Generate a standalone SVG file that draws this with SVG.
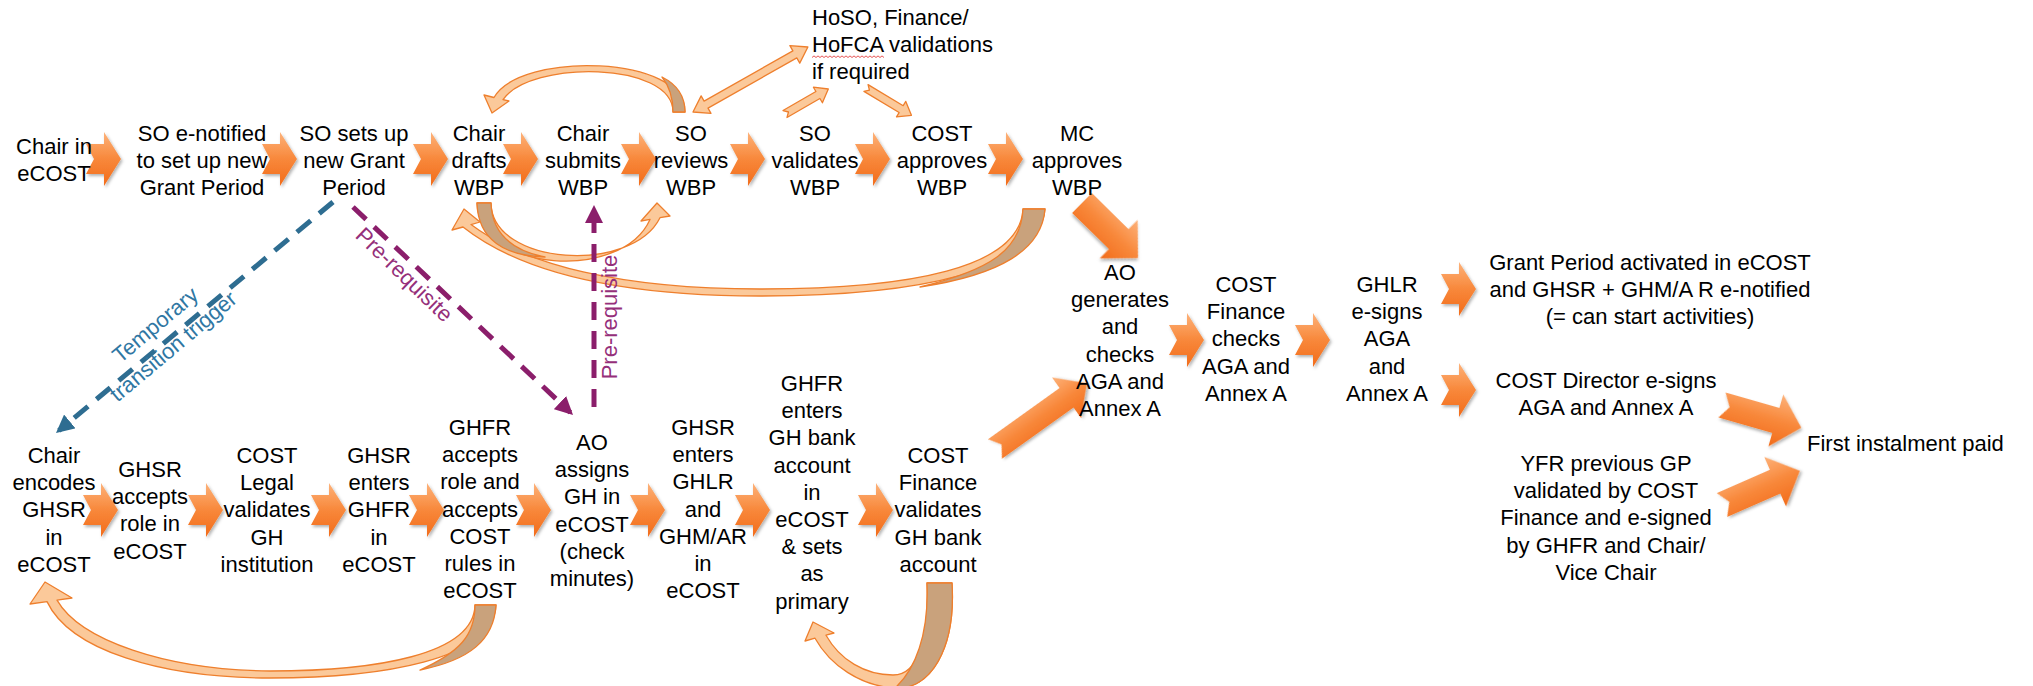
<svg xmlns="http://www.w3.org/2000/svg" xmlns:xlink="http://www.w3.org/1999/xlink" width="2033" height="686" viewBox="0 0 2033 686">
<defs>
<style>
.t{font-family:"Liberation Sans",Arial,sans-serif;font-size:22px;fill:#000;text-anchor:middle}
.tl{text-anchor:start}
.blk{fill:url(#og);filter:url(#sh)}
.cv{fill:#FBC99A;stroke:#EE7F2D;stroke-width:1.3;stroke-linejoin:round}
.br{fill:#C9A27C;stroke:#EE7F2D;stroke-width:1.3;stroke-linejoin:round}
.db{fill:none;stroke:#2E6D91;stroke-width:5;stroke-dasharray:18 11}
.dp{fill:none;stroke:#8B1E6B;stroke-width:5;stroke-dasharray:18 11}
.lb{font-family:"Liberation Sans",Arial,sans-serif;font-size:22px;fill:#2F77A3;text-anchor:middle}
.lp{font-family:"Liberation Sans",Arial,sans-serif;font-size:22px;fill:#952F7A;text-anchor:middle}
</style>
<linearGradient id="og" x1="0" y1="0" x2="0" y2="1">
<stop offset="0" stop-color="#FDB27A"/>
<stop offset="0.5" stop-color="#F8883B"/>
<stop offset="1" stop-color="#F26C1A"/>
</linearGradient>
<filter id="sh" x="-20%" y="-20%" width="150%" height="150%">
<feDropShadow dx="1.5" dy="2" stdDeviation="1.5" flood-color="#000" flood-opacity="0.3"/>
</filter>
<path id="na" d="M0,-15 L18,-15 L18,-27 L35,0 L18,27 L18,15 L0,15 L8,0 Z"/>
<marker id="mb" viewBox="0 0 10 10" refX="8" refY="5" markerWidth="3.6" markerHeight="3.6" orient="auto" markerUnits="strokeWidth">
<path d="M0,0 L10,5 L0,10 Z" fill="#2E6D91"/>
</marker>
<marker id="mp" viewBox="0 0 10 10" refX="8" refY="5" markerWidth="3.6" markerHeight="3.6" orient="auto" markerUnits="strokeWidth">
<path d="M0,0 L10,5 L0,10 Z" fill="#8B1E6B"/>
</marker>
</defs>
<rect width="2033" height="686" fill="#fff"/>

<g id="connectors">
<!-- top row flow arrows -->
<use href="#na" class="blk" transform="translate(86,159)"/>
<use href="#na" class="blk" transform="translate(262,159)"/>
<use href="#na" class="blk" transform="translate(413,159)"/>
<use href="#na" class="blk" transform="translate(503,159)"/>
<use href="#na" class="blk" transform="translate(621,159)"/>
<use href="#na" class="blk" transform="translate(730,159)"/>
<use href="#na" class="blk" transform="translate(855,159)"/>
<use href="#na" class="blk" transform="translate(988,159)"/>
<!-- bottom row flow arrows -->
<use href="#na" class="blk" transform="translate(83,510)"/>
<use href="#na" class="blk" transform="translate(188,510)"/>
<use href="#na" class="blk" transform="translate(311,510)"/>
<use href="#na" class="blk" transform="translate(409,510)"/>
<use href="#na" class="blk" transform="translate(516,510)"/>
<use href="#na" class="blk" transform="translate(630,510)"/>
<use href="#na" class="blk" transform="translate(735,510)"/>
<use href="#na" class="blk" transform="translate(858,510)"/>
<!-- right section flow arrows -->
<use href="#na" class="blk" transform="translate(1169,340)"/>
<use href="#na" class="blk" transform="translate(1295,340)"/>
<use href="#na" class="blk" transform="translate(1441,289)"/>
<use href="#na" class="blk" transform="translate(1441,390)"/>
<!-- big arrows -->
<path class="blk" transform="translate(1082,203) rotate(44.5)" d="M0,-14 L51.5,-14 L51.5,-27 L78.5,0 L51.5,27 L51.5,14 L0,14 Z"/>
<path class="blk" transform="translate(995,449) rotate(-35.6)" d="M0,-12 L88,-12 L88,-25 L113,0 L88,25 L88,12 L0,12 L8,0 Z"/>
<path class="blk" transform="translate(1722,405) rotate(16)" d="M0,-13 L56,-13 L56,-27 L82.5,0 L56,27 L56,13 L0,13 L8,0 Z"/>
<path class="blk" transform="translate(1722,505) rotate(-23.7)" d="M0,-13 L58,-13 L58,-27 L85,0 L58,27 L58,13 L0,13 L8,0 Z"/>
<!-- peach straight arrows around HoSO validations -->
<path class="cv" transform="translate(693,112) rotate(-29.5)" d="M0,0 L15,-10 L15,-4 L117,-4 L117,-10 L132,0 L117,10 L117,4 L15,4 L15,10 Z"/>
<path class="cv" transform="translate(785,114) rotate(-30)" d="M0,-4 L38,-4 L38,-9 L50,0 L38,9 L38,4 L0,4 L4,0 Z"/>
<path class="cv" transform="translate(866,88) rotate(31)" d="M0,-4 L41,-4 L41,-9 L53,0 L41,9 L41,4 L0,4 L4,0 Z"/>
<!-- curved arrows -->
<path class="cv" d="M685,112 C686,55 520,51 494,97.5 L484,95 L492,113 L509,101 L503,99.6 C530,60 673,61 673,112 Z"/>
<path class="br" d="M673,112 L685,112 C685,97 678,85 662,77 C670,87 673,98 673,112 Z"/>
<path class="cv" d="M1045,209 C1040,270 920,296 760,296 C620,296 520,272 463,227 L452,230 L464,209 L480,222 L471,224.6 C525,265 620,289 760,289 C910,289 1020,268 1023,209 Z"/>
<path class="br" d="M1023,209 L1045,209 C1042,250 1000,275 920,287 C990,270 1021,250 1023,209 Z"/>
<path class="cv" d="M477,203 C479,272 622,282 650,219.4 L641,221 L657,203 L670,216 L660,217.7 C632,274 492,266 491,203 Z"/>
<path class="br" d="M477,203 L491,203 C492,232 510,250 545,257 C505,256 478,240 477,203 Z"/>
<path class="cv" d="M496,605 C494,660 380,678 270,678 C160,678 70,650 47,601.6 L30,604 L45,582 L72,598 L57,600.1 C80,640 165,670 270,671 C375,671 474,655 475,605 Z"/>
<path class="br" d="M475,605 L496,605 C494,640 470,660 420,670 C460,652 475,635 475,605 Z"/>
<path class="cv" d="M952,583 C956,650 930,690 895,688 C860,686 830,665 815,638.2 L805,641 L813,622 L834,633 L826,635.2 C840,660 865,675 893,675 C920,675 929,635 927,583 Z"/>
<path class="br" d="M927,583 L952,583 C956,650 930,690 895,688 C915,670 929,635 927,583 Z"/>
<!-- dashed relations -->
<path class="db" d="M333,202 L58.8,430.7" marker-end="url(#mb)"/>
<path class="dp" d="M353,207 L570.4,412.5" marker-end="url(#mp)"/>
<path class="dp" d="M594,407 L594,208.6" marker-end="url(#mp)"/>
<g transform="translate(164.5,336) rotate(-40)">
<text class="lb" x="0" y="-7">Temporary</text>
<text class="lb" x="0" y="21">transition trigger</text>
</g>
<text class="lp" transform="translate(404,275) rotate(44)" x="0" y="7">Pre-requisite</text>
<text class="lp" transform="translate(610,317) rotate(-90)" x="0" y="7">Pre-requisite</text>
</g>

<g id="n_chair_in"><text class="t" x="54" y="154"><tspan x="54">Chair in</tspan><tspan x="54" dy="27.2">eCOST</tspan></text></g>
<g id="n_so_notified"><text class="t" x="202" y="140.5"><tspan x="202">SO e-notified</tspan><tspan x="202" dy="27">to set up new</tspan><tspan x="202" dy="27">Grant Period</tspan></text></g>
<g id="n_so_setup"><text class="t" x="354" y="140.5"><tspan x="354">SO sets up</tspan><tspan x="354" dy="27">new Grant</tspan><tspan x="354" dy="27">Period</tspan></text></g>
<g id="n_chair_drafts"><text class="t" x="479" y="140.5"><tspan x="479">Chair</tspan><tspan x="479" dy="27">drafts</tspan><tspan x="479" dy="27">WBP</tspan></text></g>
<g id="n_chair_submits"><text class="t" x="583" y="140.5"><tspan x="583">Chair</tspan><tspan x="583" dy="27">submits</tspan><tspan x="583" dy="27">WBP</tspan></text></g>
<g id="n_so_reviews"><text class="t" x="691" y="140.5"><tspan x="691">SO</tspan><tspan x="691" dy="27">reviews</tspan><tspan x="691" dy="27">WBP</tspan></text></g>
<g id="n_so_validates"><text class="t" x="815" y="140.5"><tspan x="815">SO</tspan><tspan x="815" dy="27">validates</tspan><tspan x="815" dy="27">WBP</tspan></text></g>
<g id="n_cost_approves"><text class="t" x="942" y="140.5"><tspan x="942">COST</tspan><tspan x="942" dy="27">approves</tspan><tspan x="942" dy="27">WBP</tspan></text></g>
<g id="n_mc_approves"><text class="t" x="1077" y="140.5"><tspan x="1077">MC</tspan><tspan x="1077" dy="27">approves</tspan><tspan x="1077" dy="27">WBP</tspan></text></g>
<g id="n_hoso"><text class="t tl" x="812" y="25"><tspan x="812">HoSO, Finance/</tspan><tspan x="812" dy="27">HoFCA validations</tspan><tspan x="812" dy="27">if required</tspan></text>
<path d="M812,57.5 l2,-1.6 l2,1.6 l2,-1.6 l2,1.6 l2,-1.6 l2,1.6 l2,-1.6 l2,1.6 l2,-1.6 l2,1.6 l2,-1.6 l2,1.6 l2,-1.6 l2,1.6 l2,-1.6 l2,1.6 l2,-1.6 l2,1.6 l2,-1.6 l2,1.6 l2,-1.6 l2,1.6 l2,-1.6 l2,1.6 l2,-1.6 l2,1.6 l2,-1.6 l2,1.6 l2,-1.6 l2,1.6 l2,-1.6 l2,1.6 l2,-1.6 l2,1.6 l2,-1.6 l2,1.6" fill="none" stroke="#E02828" stroke-width="0.8"/></g>

<g id="n_chair_encodes"><text class="t" x="54" y="463"><tspan x="54">Chair</tspan><tspan x="54" dy="27.2">encodes</tspan><tspan x="54" dy="27.2">GHSR</tspan><tspan x="54" dy="27.2">in</tspan><tspan x="54" dy="27.2">eCOST</tspan></text></g>
<g id="n_ghsr_accepts"><text class="t" x="150" y="477"><tspan x="150">GHSR</tspan><tspan x="150" dy="27.2">accepts</tspan><tspan x="150" dy="27.2">role in</tspan><tspan x="150" dy="27.2">eCOST</tspan></text></g>
<g id="n_cost_legal"><text class="t" x="267" y="463"><tspan x="267">COST</tspan><tspan x="267" dy="27.2">Legal</tspan><tspan x="267" dy="27.2">validates</tspan><tspan x="267" dy="27.2">GH</tspan><tspan x="267" dy="27.2">institution</tspan></text></g>
<g id="n_ghsr_enters_ghfr"><text class="t" x="379" y="463"><tspan x="379">GHSR</tspan><tspan x="379" dy="27.2">enters</tspan><tspan x="379" dy="27.2">GHFR</tspan><tspan x="379" dy="27.2">in</tspan><tspan x="379" dy="27.2">eCOST</tspan></text></g>
<g id="n_ghfr_accepts"><text class="t" x="480" y="435"><tspan x="480">GHFR</tspan><tspan x="480" dy="27.2">accepts</tspan><tspan x="480" dy="27.2">role and</tspan><tspan x="480" dy="27.2">accepts</tspan><tspan x="480" dy="27.2">COST</tspan><tspan x="480" dy="27.2">rules in</tspan><tspan x="480" dy="27.2">eCOST</tspan></text></g>
<g id="n_ao_assigns"><text class="t" x="592" y="450"><tspan x="592">AO</tspan><tspan x="592" dy="27.2">assigns</tspan><tspan x="592" dy="27.2">GH in</tspan><tspan x="592" dy="27.2">eCOST</tspan><tspan x="592" dy="27.2">(check</tspan><tspan x="592" dy="27.2">minutes)</tspan></text></g>
<g id="n_ghsr_enters_ghlr"><text class="t" x="703" y="435"><tspan x="703">GHSR</tspan><tspan x="703" dy="27.2">enters</tspan><tspan x="703" dy="27.2">GHLR</tspan><tspan x="703" dy="27.2">and</tspan><tspan x="703" dy="27.2">GHM/AR</tspan><tspan x="703" dy="27.2">in</tspan><tspan x="703" dy="27.2">eCOST</tspan></text></g>
<g id="n_ghfr_bank"><text class="t" x="812" y="391"><tspan x="812">GHFR</tspan><tspan x="812" dy="27.2">enters</tspan><tspan x="812" dy="27.2">GH bank</tspan><tspan x="812" dy="27.2">account</tspan><tspan x="812" dy="27.2">in</tspan><tspan x="812" dy="27.2">eCOST</tspan><tspan x="812" dy="27.2">&amp; sets</tspan><tspan x="812" dy="27.2">as</tspan><tspan x="812" dy="27.2">primary</tspan></text></g>
<g id="n_cost_fin_validates"><text class="t" x="938" y="463"><tspan x="938">COST</tspan><tspan x="938" dy="27.2">Finance</tspan><tspan x="938" dy="27.2">validates</tspan><tspan x="938" dy="27.2">GH bank</tspan><tspan x="938" dy="27.2">account</tspan></text></g>

<g id="n_ao_generates"><text class="t" x="1120" y="280"><tspan x="1120">AO</tspan><tspan x="1120" dy="27.2">generates</tspan><tspan x="1120" dy="27.2">and</tspan><tspan x="1120" dy="27.2">checks</tspan><tspan x="1120" dy="27.2">AGA and</tspan><tspan x="1120" dy="27.2">Annex A</tspan></text></g>
<g id="n_cost_fin_checks"><text class="t" x="1246" y="292"><tspan x="1246">COST</tspan><tspan x="1246" dy="27.2">Finance</tspan><tspan x="1246" dy="27.2">checks</tspan><tspan x="1246" dy="27.2">AGA and</tspan><tspan x="1246" dy="27.2">Annex A</tspan></text></g>
<g id="n_ghlr_signs"><text class="t" x="1387" y="292"><tspan x="1387">GHLR</tspan><tspan x="1387" dy="27.2">e-signs</tspan><tspan x="1387" dy="27.2">AGA</tspan><tspan x="1387" dy="27.2">and</tspan><tspan x="1387" dy="27.2">Annex A</tspan></text></g>
<g id="n_grant_activated"><text class="t" x="1650" y="270"><tspan x="1650">Grant Period activated in eCOST</tspan><tspan x="1650" dy="27.2">and GHSR + GHM/A R e-notified</tspan><tspan x="1650" dy="27.2">(= can start activities)</tspan></text></g>
<g id="n_cost_director"><text class="t" x="1606" y="388"><tspan x="1606">COST Director e-signs</tspan><tspan x="1606" dy="27.2">AGA and Annex A</tspan></text></g>
<g id="n_yfr"><text class="t" x="1606" y="471"><tspan x="1606">YFR previous GP</tspan><tspan x="1606" dy="27.2">validated by COST</tspan><tspan x="1606" dy="27.2">Finance and e-signed</tspan><tspan x="1606" dy="27.2">by GHFR and Chair/</tspan><tspan x="1606" dy="27.2">Vice Chair</tspan></text></g>
<g id="n_first_instalment"><text class="t tl" x="1807" y="451">First instalment paid</text></g>
</svg>
